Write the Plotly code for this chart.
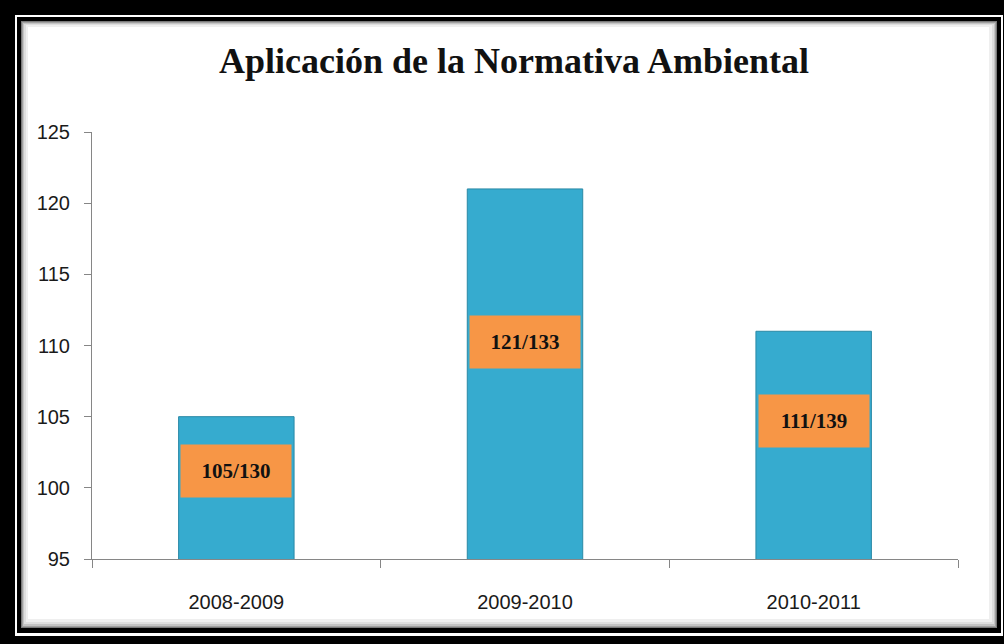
import plotly.graph_objects as go

# ---- data ----
categories = ["2008-2009", "2009-2010", "2010-2011"]
values = [105, 121, 111]
totals = [130, 133, 139]
label_y = [101.2, 110.25, 104.7]   # where Excel placed the data-label boxes
y_ticks = [95, 100, 105, 110, 115, 120, 125]

W, H = 1004, 644
L, R, T, B = 92, 46, 132, 85
PW, PH = W - L - R, H - T - B


def px(x):
    return (x - L) / PW


def py(y):
    return (H - B - y) / PH


fig = go.Figure()
fig.add_trace(go.Bar(
    x=categories, y=values,
    marker=dict(color="#36ABCF", line=dict(color="#2A89A6", width=1)),
    hoverinfo="x+y",
))

labels = [f"{v}/{t}" for v, t in zip(values, totals)]
for c, yl, txt in zip(categories, label_y, labels):
    fig.add_annotation(
        x=c, y=yl, xref="x", yref="y", text=f"<b>{txt}</b>", showarrow=False,
        font=dict(family="Liberation Serif", size=21, color="#111111"),
        bgcolor="#F79646", width=110, height=52, borderpad=0,
        xanchor="center", yanchor="middle",
    )

# frame decorations (pixel positions converted to paper coords)
shapes = []
frame = [
    (15, 15, 1003, 636, "white"),
    (17, 17, 1001, 633, "black"),
    (21, 21, 997, 628, "#7a7a7a"),
    (22, 22, 996, 627, "#a0a0a0"),
    (23, 23, 995, 626, "#c4c4c4"),
    (24, 24, 994, 624, "#dedede"),
    (26, 25, 992, 622, "#efefef"),
    (28, 27, 989, 619, "white"),
]
for x0, y0, x1, y1, col in frame:
    shapes.append(dict(type="rect", xref="paper", yref="paper",
                       x0=px(x0), x1=px(x1), y0=py(y1), y1=py(y0),
                       fillcolor=col, line=dict(width=0), layer="below"))

fig.update_layout(
    width=W, height=H,
    margin=dict(l=L, r=R, t=T, b=B, pad=0),
    paper_bgcolor="black",
    plot_bgcolor="rgba(0,0,0,0)",
    shapes=shapes,
    showlegend=False,
    bargap=0.6,
    title=dict(
        text="<b>Aplicación de la Normativa Ambiental</b>",
        x=514 / W, xanchor="center", xref="container",
        y=(H - 60) / H, yanchor="middle", yref="container",
        font=dict(family="Liberation Serif", size=36, color="#111111"),
    ),
    xaxis=dict(
        showline=True, linecolor="#868686", linewidth=1,
        ticks="outside", ticklen=8, tickcolor="#868686", tickson="boundaries",
        showgrid=False, zeroline=False,
        tickfont=dict(family="Liberation Sans", size=20, color="#1a1a1a"),
        ticklabelstandoff=25,
    ),
    yaxis=dict(
        range=[95, 125], tickvals=y_ticks,
        showline=True, linecolor="#868686", linewidth=1,
        ticks="outside", ticklen=7, tickcolor="#868686",
        showgrid=False, zeroline=False,
        tickfont=dict(family="Liberation Sans", size=20, color="#1a1a1a"),
        ticklabelstandoff=10,
    ),
)

fig.write_html(
    "out.html",
    config={"displayModeBar": False},
    post_script="document.body.style.margin='0';document.body.style.padding='0';",
)
